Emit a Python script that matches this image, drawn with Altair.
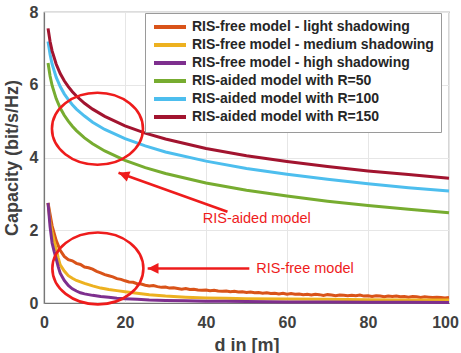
import altair as alt
import pandas as pd

FONT = "Liberation Sans"

series_names = [
    "RIS-free model - light shadowing",
    "RIS-free model - medium shadowing",
    "RIS-free model - high shadowing",
    "RIS-aided model with R=50",
    "RIS-aided model with R=100",
    "RIS-aided model with R=150",
]
series_colors = ["#D95319", "#EDB120", "#7E2F8E", "#77AC30", "#4DBEEE", "#A2142F"]

# distance grid for the light-shadowing (noisy) curve
d_light = list(range(1, 101))
light = [2.75, 2.12, 1.72, 1.45, 1.28, 1.19, 1.16, 1.09, 1.06, 0.99,
         0.97, 0.93, 0.87, 0.83, 0.78, 0.75, 0.72, 0.67, 0.65, 0.61,
         0.58, 0.57, 0.53, 0.52, 0.49, 0.47, 0.48, 0.45, 0.43, 0.44,
         0.41, 0.42, 0.40, 0.38, 0.40, 0.37, 0.38, 0.36, 0.35, 0.36,
         0.34, 0.35, 0.33, 0.32, 0.33, 0.31, 0.32, 0.30, 0.31, 0.29,
         0.30, 0.28, 0.29, 0.27, 0.28, 0.26, 0.27, 0.25, 0.27, 0.24,
         0.26, 0.24, 0.25, 0.23, 0.24, 0.22, 0.24, 0.23, 0.21, 0.23,
         0.22, 0.20, 0.22, 0.21, 0.20, 0.21, 0.20, 0.22, 0.19, 0.20,
         0.18, 0.20, 0.19, 0.17, 0.19, 0.18, 0.19, 0.17, 0.18, 0.16,
         0.18, 0.17, 0.15, 0.17, 0.16, 0.15, 0.16, 0.15, 0.14, 0.15]

d_free = [1, 1.5, 2, 2.5, 3, 3.5, 4, 5, 6, 7, 8, 9, 10, 12, 14, 16, 18, 20,
          23, 26, 30, 35, 40, 45, 50, 60, 70, 80, 90, 100]
medium = [2.75, 2.25, 1.95, 1.70, 1.48, 1.25, 1.05, 0.88, 0.75, 0.68, 0.62,
          0.58, 0.54, 0.47, 0.41, 0.37, 0.34, 0.31, 0.27, 0.23, 0.19, 0.16,
          0.14, 0.13, 0.12, 0.11, 0.10, 0.09, 0.08, 0.08]
high = [2.75, 2.10, 1.65, 1.42, 1.22, 1.00, 0.82, 0.62, 0.48, 0.39, 0.33,
        0.28, 0.25, 0.21, 0.18, 0.16, 0.13, 0.12, 0.10, 0.08, 0.07, 0.06,
        0.05, 0.045, 0.04, 0.03, 0.025, 0.02, 0.02, 0.015]

d_aided = [1, 1.5, 2, 3, 4, 5, 6, 7, 8, 10, 12, 15, 20, 25, 30, 40, 50, 60,
           70, 80, 90, 100]
r50 = [6.60, 6.24, 5.98, 5.62, 5.36, 5.16, 5.00, 4.86, 4.74, 4.54, 4.38,
       4.18, 3.92, 3.72, 3.56, 3.30, 3.10, 2.94, 2.80, 2.68, 2.58, 2.48]
r100 = [7.19, 6.83, 6.57, 6.21, 5.95, 5.75, 5.59, 5.45, 5.33, 5.14, 4.97,
        4.77, 4.52, 4.32, 4.15, 3.90, 3.70, 3.54, 3.40, 3.28, 3.17, 3.08]
r150 = [7.55, 7.19, 6.93, 6.57, 6.31, 6.11, 5.95, 5.81, 5.69, 5.49, 5.33,
        5.13, 4.87, 4.67, 4.51, 4.25, 4.05, 3.89, 3.75, 3.63, 3.53, 3.43]

x_ticks = [0, 20, 40, 60, 80, 100]
y_ticks = [0, 2, 4, 6, 8]

# annotations (data coordinates)
ellipse_x = [13.2, 13.3]
ellipse_y = [4.79, 0.95]
arrow_x = [45.3, 50.7]
arrow_y = [2.51, 0.95]
arrow_x2 = [18.4, 25.6]
arrow_y2 = [3.58, 0.95]
arrow_angle = [290, 270]
label_text = ["RIS-aided model", "RIS-free model"]
label_x = [39.2, 52.4]
label_y = [2.32, 0.94]

rows = []
for name, xs, ys in [
    (series_names[0], d_light, light),
    (series_names[1], d_free, medium),
    (series_names[2], d_free, high),
    (series_names[3], d_aided, r50),
    (series_names[4], d_aided, r100),
    (series_names[5], d_aided, r150),
]:
    for xv, yv in zip(xs, ys):
        rows.append({"series": name, "d": xv, "cap": yv})
df = pd.DataFrame(rows)

xscale = alt.Scale(domain=[0, 100], nice=False)
yscale = alt.Scale(domain=[0, 8], nice=False)

lines = alt.Chart(df).mark_line(strokeWidth=3).encode(
    x=alt.X("d:Q", scale=xscale,
            axis=alt.Axis(values=x_ticks, title="d in [m]", grid=True,
                          labelFlush=False,
                          labelOffset={"condition": {"test": "datum.value == 100",
                                                     "value": -4},
                                       "value": 0})),
    y=alt.Y("cap:Q", scale=yscale,
            axis=alt.Axis(values=y_ticks, title="Capacity (bit/s/Hz)", grid=True,
                          labelFlush=False)),
    color=alt.Color(
        "series:N",
        scale=alt.Scale(domain=series_names, range=series_colors),
        sort=series_names,
        legend=alt.Legend(
            title=None, orient="none", legendX=101, legendY=1,
            symbolType="M-1,0 L5.4,0", symbolSize=100, symbolStrokeWidth=4,
            labelFont=FONT, labelFontSize=14, labelFontWeight="bold",
            labelColor="#262626", labelLimit=400, labelOffset=26,
            rowPadding=2, padding=7, fillColor="white",
            strokeColor="#9a9a9a",
        ),
    ),
    order=alt.Order("d:Q"),
)

ell_df = pd.DataFrame({"x": ellipse_x, "y": ellipse_y})
ellipses = alt.Chart(ell_df).mark_point(
    shape="M-1,0 A1,0.79 0 1,1 1,0 A1,0.79 0 1,1 -1,0 Z",
    size=8281, filled=False, stroke="#ee1c1c", strokeWidth=2.6, opacity=1,
).encode(x=alt.X("x:Q", scale=xscale), y=alt.Y("y:Q", scale=yscale))

arr_df = pd.DataFrame({"x": arrow_x, "y": arrow_y, "x2": arrow_x2,
                       "y2": arrow_y2, "angle": arrow_angle})
arrow_lines = alt.Chart(arr_df).mark_rule(color="#ee1c1c", strokeWidth=2.6).encode(
    x=alt.X("x:Q", scale=xscale), y=alt.Y("y:Q", scale=yscale),
    x2="x2:Q", y2="y2:Q",
)
arrow_heads = alt.Chart(arr_df).mark_point(
    shape="M0,0 L0.6,1.2 L-0.6,1.2 Z", size=324, filled=True,
    color="#ee1c1c", opacity=1,
).encode(
    x=alt.X("x2:Q", scale=xscale), y=alt.Y("y2:Q", scale=yscale),
    angle=alt.Angle("angle:Q", scale=None),
)

lab_df = pd.DataFrame({"t": label_text, "x": label_x, "y": label_y})
labels = alt.Chart(lab_df).mark_text(
    align="left", baseline="middle", font=FONT, fontSize=14.5,
    color="#ee1c1c",
).encode(x=alt.X("x:Q", scale=xscale), y=alt.Y("y:Q", scale=yscale), text="t:N")

chart = alt.layer(lines, ellipses, arrow_lines, arrow_heads, labels).properties(
    width=405, height=291,
    autosize=alt.AutoSizeParams(type="none"),
    padding={"left": 44, "top": 12, "right": 12, "bottom": 50},
).configure_view(
    stroke="#777777", strokeWidth=1.2,
).configure_axis(
    domain=True, domainColor="#777777", domainWidth=1.2,
    ticks=False, gridColor="#e6e6e6", gridWidth=1,
    labelFont=FONT, labelFontSize=16, labelFontWeight="bold",
    labelColor="#404040", titleFont=FONT, titleFontSize=18,
    titleFontWeight="bold", titleColor="#404040",
).configure_axisX(
    labelPadding=11, titlePadding=6,
).configure_axisY(
    labelPadding=6, titlePadding=8,
)

chart.save("out.html", embed_options={"renderer": "svg", "actions": False})
